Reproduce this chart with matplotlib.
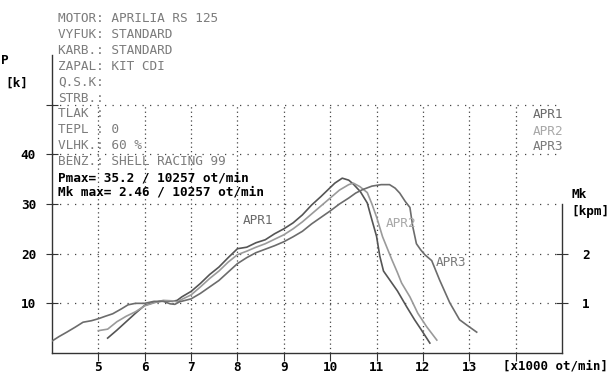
import matplotlib.pyplot as plt

# otacky [x1000 ot/min] a vykon pro tri mereni
rpm_apr1 = [5.2, 5.4, 5.6, 5.8, 6.0, 6.2, 6.4, 6.6, 6.7, 6.8, 7.0, 7.2, 7.4, 7.6, 7.8,
            8.0, 8.2, 8.4, 8.6, 8.8, 9.0, 9.2, 9.4, 9.6, 9.8, 10.0, 10.1, 10.26, 10.4,
            10.5, 10.65, 10.8, 10.9, 11.0, 11.07, 11.15, 11.3, 11.45, 11.65, 11.82,
            11.97, 12.15]
p_apr1 = [3.0, 4.6, 6.3, 8.0, 9.6, 10.2, 10.5, 10.4, 10.6, 11.3, 12.4, 14.0, 15.8, 17.3,
          19.2, 21.0, 21.3, 22.2, 22.8, 24.0, 25.0, 26.2, 27.8, 29.8, 31.5, 33.3, 34.2,
          35.2, 34.8, 34.0, 32.5, 30.2, 26.8, 23.5, 19.5, 16.5, 14.5, 12.5, 9.3, 6.7,
          4.6, 2.0]

rpm_apr2 = [5.0, 5.2, 5.4, 5.6, 5.8, 6.0, 6.2, 6.4, 6.6, 6.7, 6.8, 7.0, 7.2, 7.4, 7.6,
            7.8, 8.0, 8.2, 8.4, 8.6, 8.8, 9.0, 9.2, 9.4, 9.6, 9.8, 10.0, 10.2, 10.4,
            10.5, 10.64, 10.8, 10.9, 11.0, 11.13, 11.33, 11.45, 11.54, 11.72, 11.89,
            12.08, 12.3]
p_apr2 = [4.5, 4.8, 6.3, 7.4, 8.3, 9.5, 10.1, 10.6, 10.5, 10.3, 10.8, 11.7, 13.3, 15.0,
          16.5, 18.3, 19.8, 20.5, 21.3, 22.0, 22.9, 23.8, 25.0, 26.4, 28.0, 29.6, 31.2,
          32.8, 33.9, 34.2, 33.5, 32.3, 30.0, 27.4, 23.4, 18.8, 16.2, 14.1, 11.3, 8.0,
          5.3, 2.6]

rpm_apr3 = [4.0, 4.15, 4.32, 4.5, 4.67, 4.85, 5.0, 5.15, 5.31, 5.5, 5.64, 5.8, 6.0, 6.2,
            6.4, 6.55, 6.65, 6.75, 7.0, 7.2, 7.4, 7.6, 7.8, 8.0, 8.2, 8.4, 8.6, 8.8,
            9.0, 9.2, 9.4, 9.6, 9.8, 10.0, 10.2, 10.4, 10.55, 10.7, 10.9, 11.1, 11.28,
            11.4, 11.5, 11.62, 11.72, 11.78, 11.86, 11.95, 12.04, 12.19, 12.36, 12.58,
            12.79, 12.95, 13.16]
p_apr3 = [2.4, 3.3, 4.2, 5.2, 6.2, 6.5, 6.9, 7.4, 7.9, 8.9, 9.7, 10.0, 10.0, 10.4, 10.4,
          9.9, 9.8, 10.3, 10.9, 12.0, 13.3, 14.6, 16.3, 18.0, 19.2, 20.2, 20.9, 21.6,
          22.4, 23.4, 24.5, 26.0, 27.3, 28.6, 30.0, 31.2, 32.2, 32.9, 33.6, 33.9, 33.9,
          33.2, 32.2, 30.5, 29.3, 25.5, 22.0, 20.8, 19.8, 18.6, 14.7, 10.1, 6.7, 5.6,
          4.2]

x_ticks = [5, 6, 7, 8, 9, 10, 11, 12, 13, 14]
x_labels = ["5", "6", "7", "8", "9", "10", "11", "12", "13", ""]
p_ticks = [10, 20, 30, 40, 50]
p_labels = ["10", "20", "30", "40", ""]
mk_ticks = [1, 2]

info = ["MOTOR: APRILIA RS 125", "VYFUK: STANDARD", "KARB.: STANDARD",
        "ZAPAL: KIT CDI", "Q.S.K:", "STRB.:", "TLAK :", "TEPL : 0",
        "VLHK.: 60 %", "BENZ.: SHELL RACING 99"]
pmax_text = "Pmax= 35.2 / 10257 ot/min"
mkmax_text = "Mk max= 2.46 / 10257 ot/min"

names = ["APR1", "APR2", "APR3"]
line_colors = ["#555555", "#9a9a9a", "#6c6c6c"]
text_colors = ["#6a6a6a", "#a8a8a8", "#7a7a7a"]

mono = "DejaVu Sans Mono"
fs = 9.2
W, H = 610, 374

fig = plt.figure(figsize=(6.1, 3.74), dpi=100)
ax = fig.add_axes([52 / W, 21 / H, 510 / W, 298 / H])
ax.set_xlim(4, 15)
ax.set_ylim(0, 60)

# mrizka
for v in x_ticks:
    ax.plot([v, v], [0, 50], color="#444444", lw=0.9, ls=(0, (1, 2.5)), zorder=1)
for v in p_ticks:
    ax.plot([4, 15], [v, v], color="#444444", lw=0.9, ls=(0, (1, 5)), zorder=1)

runs = [(rpm_apr1, p_apr1), (rpm_apr2, p_apr2), (rpm_apr3, p_apr3)]
for (r, p), c in zip(runs, line_colors):
    ax.plot(r, p, color=c, lw=1.2, zorder=3)

ax.spines["top"].set_visible(False)
ax.spines["right"].set_bounds(0, 30)
for s in ["left", "bottom", "right"]:
    ax.spines[s].set_color("#333333")
    ax.spines[s].set_linewidth(1.0)

ax.set_xticks(x_ticks)
ax.set_xticklabels(x_labels)
ax.set_yticks(p_ticks)
ax.set_yticklabels(p_labels)
ax.tick_params(axis="x", direction="out", length=6, pad=0, color="#333333")
ax.tick_params(axis="y", direction="inout", length=9, pad=7, color="#333333")
for lab in ax.get_xticklabels() + ax.get_yticklabels():
    lab.set_fontfamily(mono)
    lab.set_fontsize(fs)
    lab.set_fontweight("bold")

ax2 = ax.twinx()
ax2.set_ylim(0, 6)
ax2.set_yticks(mk_ticks)
ax2.set_yticklabels([str(v) for v in mk_ticks])
ax2.tick_params(axis="y", direction="inout", length=9, pad=10, color="#333333")
for s in ["top", "left", "bottom", "right"]:
    ax2.spines[s].set_visible(False)
for lab in ax2.get_yticklabels():
    lab.set_fontfamily(mono)
    lab.set_fontsize(fs)
    lab.set_fontweight("bold")

def ftext(x, y, s, **kw):
    kw.setdefault("fontsize", fs)
    fig.text(x / W, 1 - y / H, s, family=mono, va="center", **kw)

for i, line in enumerate(info):
    ftext(58, 19 + i * 15.8, line, color="#7c7c7c")
ftext(58, 178, pmax_text, color="black", weight="bold")
ftext(58, 192, mkmax_text, color="black", weight="bold")

for i, (n, c) in enumerate(zip(names, text_colors)):
    ftext(533, 115 + i * 16, n, color=c)

ftext(243, 221, "APR1", color=text_colors[0])
ftext(386, 223, "APR2", color=text_colors[1])
ftext(436, 263, "APR3", color=text_colors[2])

ftext(1, 60, "P", color="black", weight="bold")
ftext(5, 83, "[k]", color="black", weight="bold")
ftext(572, 195, "Mk", color="black", weight="bold")
ftext(571, 211, "[kpm]", color="black", weight="bold")
ftext(608, 366, "[x1000 ot/min]", color="black", weight="bold", ha="right",
      fontsize=8.9)

fig.savefig("out.png", dpi=100)
